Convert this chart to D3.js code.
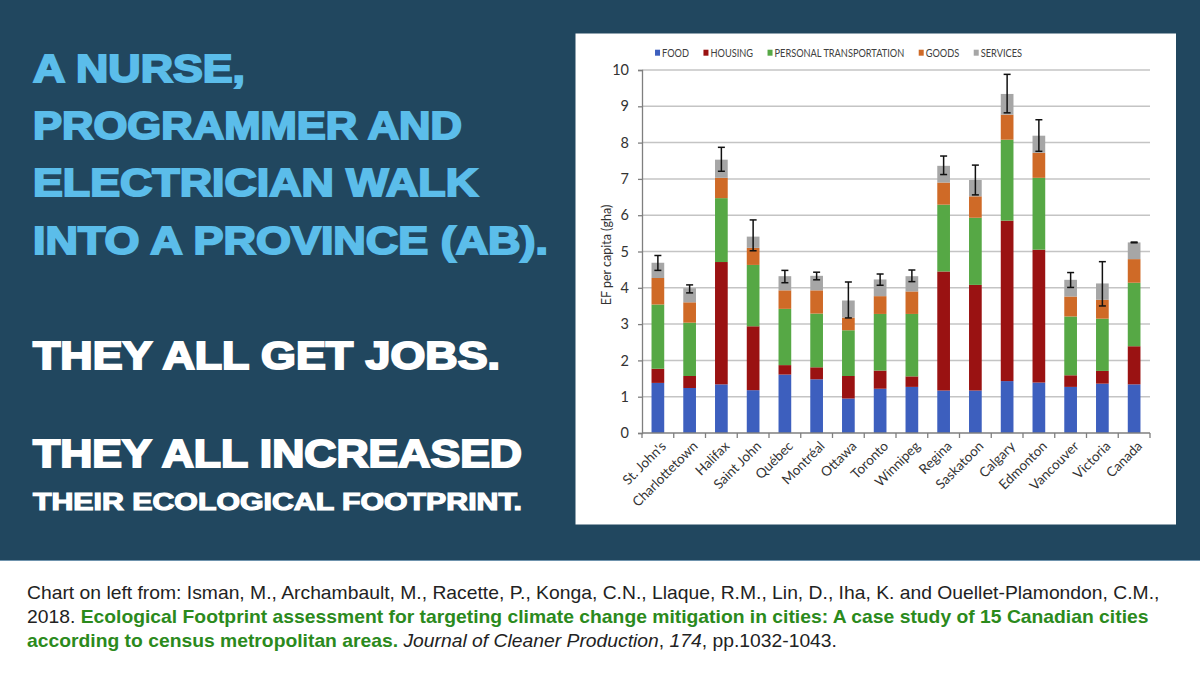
<!DOCTYPE html>
<html><head><meta charset="utf-8">
<script src="https://cdn.jsdelivr.net/npm/d3@7"></script>
<style>html,body{margin:0;padding:0;background:#fff;}svg{display:block;}</style>
</head><body>
<svg id="c" width="1200" height="675"></svg>
<script>
const cities = ["St. John's","Charlottetown","Halifax","Saint John","Québec","Montréal","Ottawa","Toronto","Winnipeg","Regina","Saskatoon","Calgary","Edmonton","Vancouver","Victoria","Canada"];
const seriesNames = ["FOOD","HOUSING","PERSONAL TRANSPORTATION","GOODS","SERVICES"];
const food =      [1.38,1.24,1.34,1.18,1.61,1.48,0.95,1.22,1.27,1.17,1.17,1.43,1.39,1.27,1.36,1.34];
const housing =   [0.39,0.33,3.37,1.76,0.26,0.33,0.62,0.50,0.29,3.28,2.91,4.42,3.66,0.32,0.35,1.05];
const transport = [1.77,1.47,1.76,1.69,1.55,1.48,1.26,1.56,1.72,1.84,1.85,2.23,1.98,1.62,1.44,1.75];
const goods =     [0.73,0.56,0.56,0.47,0.51,0.64,0.35,0.49,0.62,0.61,0.59,0.69,0.69,0.55,0.52,0.65];
const services =  [0.42,0.39,0.50,0.31,0.39,0.40,0.47,0.46,0.42,0.46,0.45,0.57,0.47,0.46,0.45,0.46];
const errHigh =   [4.89,4.08,7.87,5.87,4.48,4.43,4.16,4.38,4.49,7.63,7.38,9.88,8.63,4.42,4.72,5.26];
const errLow =    [4.48,3.86,7.21,5.02,4.14,4.22,3.17,4.07,4.17,7.12,6.56,8.82,7.76,4.01,3.50,5.24];
const yTicks = [0,1,2,3,4,5,6,7,8,9,10];
const colors = ["#3d5fbe","#9a1212","#56a845","#cf6a27","#a6a6a6"];

const headlineBlue = ["A NURSE,","PROGRAMMER AND","ELECTRICIAN WALK","INTO A PROVINCE (AB)."];
const headlineWhite = ["THEY ALL GET JOBS.","THEY ALL INCREASED"];
const headlineSmall = "THEIR ECOLOGICAL FOOTPRINT.";

const svg = d3.select("#c");
svg.append("rect").attr("x",0).attr("y",0).attr("width",1200).attr("height",675).attr("fill","#ffffff");
svg.append("rect").attr("x",0).attr("y",0).attr("width",1200).attr("height",561).attr("fill","#21475f");
svg.append("line").attr("x1",0).attr("x2",1200).attr("y1",560.5).attr("y2",560.5).attr("stroke","#6f93ad").attr("stroke-width",1);

// headline text
const hl = svg.append("g").attr("font-family","'Liberation Sans', Arial, sans-serif").attr("font-weight","bold");
const blueW = [212,429,445,515];
const blueY = [81.7,139,196.3,253.6];
headlineBlue.forEach((t,i)=>{
  hl.append("text").attr("x",33).attr("y",blueY[i]).attr("font-size",39.5)
    .attr("fill","#5bbdea").attr("stroke","#5bbdea").attr("stroke-width",2)
    .attr("textLength",blueW[i]).attr("lengthAdjust","spacingAndGlyphs").text(t);
});
const whiteW = [467,489];
const whiteY = [369.3,466.7];
headlineWhite.forEach((t,i)=>{
  hl.append("text").attr("x",33).attr("y",whiteY[i]).attr("font-size",38.5)
    .attr("fill","#ffffff").attr("stroke","#ffffff").attr("stroke-width",2)
    .attr("textLength",whiteW[i]).attr("lengthAdjust","spacingAndGlyphs").text(t);
});
hl.append("text").attr("x",33).attr("y",510).attr("font-size",24)
  .attr("fill","#ffffff").attr("stroke","#ffffff").attr("stroke-width",1.2)
  .attr("textLength",489).attr("lengthAdjust","spacingAndGlyphs").text(headlineSmall);

// chart box
svg.append("rect").attr("x",575.5).attr("y",33.5).attr("width",600.5).attr("height",491).attr("fill","#ffffff");

const m = {left:642, right:1150, top:70, bottom:433};
const x = d3.scaleBand().domain(cities).range([m.left,m.right]).paddingInner(0.6).paddingOuter(0.3);
const y = d3.scaleLinear().domain([0,10]).range([m.bottom,m.top]);

const g = svg.append("g").attr("font-family","Lato, 'Open Sans', sans-serif");

// gridlines
g.append("g").selectAll("line").data(yTicks.filter(d=>d>0)).join("line")
  .attr("x1",m.left).attr("x2",m.right).attr("y1",d=>y(d)).attr("y2",d=>y(d))
  .attr("stroke","#c4c4c4").attr("stroke-width",1.5);

// stacked bars
const rows = cities.map((c,i)=>({city:c,FOOD:food[i],HOUSING:housing[i],"PERSONAL TRANSPORTATION":transport[i],GOODS:goods[i],SERVICES:services[i]}));
const stack = d3.stack().keys(seriesNames)(rows);
g.append("g").selectAll("g").data(stack).join("g").attr("fill",(d,i)=>colors[i])
  .selectAll("rect").data(d=>d).join("rect")
  .attr("x",d=>x(d.data.city)).attr("width",x.bandwidth())
  .attr("y",d=>y(d[1])).attr("height",d=>y(d[0])-y(d[1]));

// error bars
const eg = g.append("g").attr("stroke","#111").attr("stroke-width",1.5);
cities.forEach((c,i)=>{
  const cx = x(c)+x.bandwidth()/2;
  eg.append("line").attr("x1",cx).attr("x2",cx).attr("y1",y(errHigh[i])).attr("y2",y(errLow[i]));
  eg.append("line").attr("x1",cx-3.5).attr("x2",cx+3.5).attr("y1",y(errHigh[i])).attr("y2",y(errHigh[i]));
  eg.append("line").attr("x1",cx-3.5).attr("x2",cx+3.5).attr("y1",y(errLow[i])).attr("y2",y(errLow[i]));
});

// y axis
const ya = g.append("g").attr("transform",`translate(${m.left},0)`)
  .call(d3.axisLeft(y).tickValues(yTicks).tickSize(4).tickPadding(9).tickFormat(d3.format("d")));
ya.select(".domain").attr("stroke","#7f7f7f").attr("stroke-width",1.3);
ya.selectAll(".tick line").attr("stroke","#7f7f7f").attr("stroke-width",1.3);
ya.selectAll("text").attr("font-size",14.5).attr("fill","#333").attr("font-family","Lato, sans-serif");

// x axis
const step = x.step();
const xa = g.append("g");
xa.append("line").attr("x1",m.left).attr("x2",m.right).attr("y1",m.bottom).attr("y2",m.bottom).attr("stroke","#7f7f7f").attr("stroke-width",1.3);
xa.selectAll("line.t").data(d3.range(cities.length+1)).join("line").attr("class","t")
  .attr("x1",i=>m.left+i*step).attr("x2",i=>m.left+i*step).attr("y1",m.bottom).attr("y2",m.bottom+5)
  .attr("stroke","#7f7f7f").attr("stroke-width",1.3);
xa.selectAll("text").data(cities).join("text")
  .attr("transform",d=>`translate(${x(d)+x.bandwidth()/2+9},${m.bottom+14}) rotate(-45)`)
  .attr("text-anchor","end").attr("font-size",13.5).attr("fill","#333").text(d=>d);

// y title
g.append("text").attr("transform",`translate(607,255) rotate(-90)`).attr("text-anchor","middle")
  .attr("dy","0.35em").attr("font-size",12.5).attr("fill","#333").text("EF per capita (gha)");

// legend
const lg = g.append("g");
const kx = 0.77;
let lx = 0;
seriesNames.forEach((n,i)=>{
  const it = lg.append("g").attr("transform",`translate(${lx},0)`);
  it.append("rect").attr("x",0).attr("y",-3).attr("width",5).attr("height",6).attr("fill",colors[i]);
  const t = it.append("text").attr("x",0).attr("y",0).attr("dy","0.36em").attr("font-size",12).attr("fill","#404040")
    .attr("transform",`translate(7,0) scale(${kx},1)`).text(n);
  const w = t.node().getComputedTextLength()*kx;
  lx += 7 + w + 14.5;
});
const totalW = lx - 14.5;
lg.attr("transform",`translate(${838.5-totalW/2},52.7)`);

// citation
const cg = svg.append("g").attr("font-family","'Liberation Sans', Arial, sans-serif").attr("font-size",18).attr("fill","#222");
const l1 = cg.append("text").attr("x",0).attr("y",599).text("Chart on left from: Isman, M., Archambault, M., Racette, P., Konga, C.N., Llaque, R.M., Lin, D., Iha, K. and Ouellet-Plamondon, C.M.,");
const l2 = cg.append("text").attr("x",0).attr("y",623);
l2.append("tspan").text("2018. ");
l2.append("tspan").attr("fill","#2b8a1c").attr("font-weight","bold").text("Ecological Footprint assessment for targeting climate change mitigation in cities: A case study of 15 Canadian cities");
const l3 = cg.append("text").attr("x",0).attr("y",647);
l3.append("tspan").attr("fill","#2b8a1c").attr("font-weight","bold").text("according to census metropolitan areas.");
l3.append("tspan").text(" ");
l3.append("tspan").attr("font-style","italic").text("Journal of Cleaner Production");
l3.append("tspan").text(", ");
l3.append("tspan").attr("font-style","italic").text("174");
l3.append("tspan").text(", pp.1032-1043.");
const w1 = l1.node().getComputedTextLength();
const sx = 1133/w1;
cg.attr("transform",`translate(27,0) scale(${sx},1)`);
</script>
</body></html>
